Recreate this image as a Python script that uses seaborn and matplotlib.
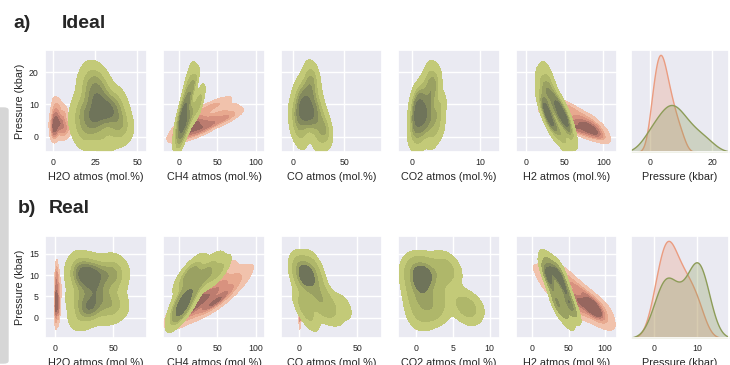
import numpy as np
import pandas as pd
import matplotlib
matplotlib.use("Agg")
import matplotlib.pyplot as plt
from matplotlib.colors import ListedColormap
from matplotlib.patches import FancyBboxPatch
import seaborn as sns

# gas columns (x of the 5 bivariate panels) + pressure (y, and the last panel)
gases = ["H2O", "CH4", "CO", "CO2", "H2"]
xlabels = ["H2O atmos (mol.%)", "CH4 atmos (mol.%)", "CO atmos (mol.%)",
           "CO2 atmos (mol.%)", "H2 atmos (mol.%)", "Pressure (kbar)"]

# ---- a) Ideal, orange group
ideal_or_p = [0.2, 0.8, 1.2, 1.5, 2.0, 2.3, 2.6, 2.9, 3.1, 3.4, 3.6, 3.9,
              4.2, 4.5, 4.8, 5.2, 5.6, 6.0, 6.5, 7.0, 7.6, 8.3, 9.2, 10.5]
ideal_or_h2o = [1, 5, 0.5, 7, 2, 9, 0.8, 6, 1.2, 3.5, 0.3, 4,
                8, 5, 0.6, 2.8, 1.4, 6, 0.9, 3, 7, 1.1, 4, 1.7]
ideal_or_ch4 = [8, 2, 20, 5, 28, 10, 15, 32, 6, 22, 40, 12,
                18, 35, 50, 25, 60, 14, 45, 70, 30, 62, 40, 55]
ideal_or_co = [1, 4, 2, 1.5, 0.8, 5, 1.2, 2.5, 0.4, 3.8, 3.5, 1,
               2.2, 0.6, 4.5, 2.8, 0.9, 1.3, 2, 0.7, 1.5, 2.4, 1.1, 0.5]
ideal_or_co2 = [0.1, 0.2, 0.05, 0.15, 0.3, 0.1, 0.2, 0.05, 0.25, 0.1, 0.15, 0.2,
                0.1, 0.3, 0.05, 0.2, 0.1, 0.15, 0.25, 0.1, 0.2, 0.05, 0.15, 0.1]
ideal_or_h2 = [89, 93, 77, 88, 68, 84, 82, 60, 91, 72, 58, 84,
               73, 58, 47, 70, 37, 80, 52, 30, 62, 38, 55, 41]

# ---- a) Ideal, green group
ideal_gr_p = [-1.5, 0, 1, 2, 3, 3.8, 4.5, 5.2, 5.8, 6.3, 6.8, 7.3,
              7.8, 8.4, 9, 9.7, 10.5, 11.3, 12.2, 13.2, 14.5, 16, 17.5, 19.5]
ideal_gr_h2o = [30, 18, 38, 22, 42, 26, 15, 34, 24, 40, 20, 30,
                28, 36, 17, 32, 25, 38, 22, 30, 26, 20, 28, 23]
ideal_gr_ch4 = [0, 3, -2, 6, 2, 10, 4, 1, 12, 7, 3, 15,
                9, 20, 5, 25, 12, 8, 28, 14, 10, 18, 20, 15]
ideal_gr_co = [25, 8, 32, 30, 3, 20, 12, 28, 6, 16, 22, 10,
               2, 18, 12, 8, 24, 14, 6, 18, 10, 15, 20, 17]
ideal_gr_co2 = [1, 3, 0.3, 2, 4, 0.8, 1.5, 2.8, 0.5, 1.8, 3.5, 1,
                2.2, 0.6, 1.4, 4.2, 1.1, 2.5, 0.7, 3.2, 1.6, 2.8, 3.5, 2.6]
ideal_gr_h2 = [50, 58, 45, 38, 55, 34, 52, 30, 48, 42, 28, 50,
               26, 44, 36, 24, 42, 22, 36, 28, 22, 30, 22, 28]

# ---- b) Real, orange group
real_or_p = [-0.5, 0.5, 1, 1.5, 2, 2.3, 2.6, 2.9, 3.2, 3.5, 3.8, 4.2,
             4.6, 5, 5.5, 6, 6.5, 7, 7.6, 8.2, 8.8, 9.5, 10.3, 11.2]
real_or_h2o = [1, 2.5, 0.5, 3, 1.5, 0.2, 2, 4, 1, 2.8, 0.6, 1.8,
               3.5, 0.8, 2.2, 1.2, 4.5, 0.4, 2.6, 1.5, 3.2, 0.9, 2, 1.3]
real_or_ch4 = [5, 0, 20, 8, 35, 12, 3, 42, 18, 25, 50, 10,
               38, 58, 28, 46, 66, 35, 55, 74, 45, 62, 80, 58]
real_or_co = [0.5, 1, 0.2, 1.5, 0.8, 2, 0.3, 1.2, 0.6, 1.8, 0.4, 1,
              2.2, 0.7, 1.4, 0.2, 1.6, 0.9, 0.3, 1.1, 0.5, 1.3, 0.8, 0.4]
real_or_co2 = [0.05, 0.1, 0.02, 0.15, 0.08, 0.2, 0.03, 0.12, 0.06, 0.1, 0.04, 0.09,
               0.05, 0.1, 0.02, 0.15, 0.08, 0.2, 0.03, 0.12, 0.06, 0.1, 0.04, 0.09]
real_or_h2 = [91, 94, 76, 86, 60, 85, 92, 52, 78, 69, 45, 85,
              56, 38, 73, 50, 30, 62, 40, 25, 52, 35, 18, 38]

# ---- b) Real, green group
real_gr_p = [-0.3, 1.2, 2, 2.6, 3, 3.4, 3.9, 4.5, 5.5, 7, 8, 8.7,
             9.2, 9.6, 9.9, 10.2, 10.5, 10.8, 11.2, 11.6, 12.1, 12.7, 6.2, 1.6]
real_gr_h2o = [20, 45, 30, 55, 25, 35, 48, 18, 40, 28, 52, 22,
               35, 45, 28, 18, 38, 55, 25, 32, 48, 20, 35, 30]
real_gr_ch4 = [-2, 2, 8, 0, 4, 12, 1, 6, 15, 20, 10, 30,
               5, 40, 18, 25, 50, 12, 35, 55, 22, 45, 8, 0]
real_gr_co = [10, 30, 5, 38, 20, 12, 2, 25, 15, 8, 3, 12,
              0, 6, 15, 2, 8, 4, 10, 1, 5, 12, 18, 22]
real_gr_co2 = [0.5, 7, 1.5, 7.5, 0.3, 2.5, 6, 0.8, 3, 0.2, 1.2, 0.6,
               2, 0.1, 3.5, 0.4, 1, 4.5, 0.2, 1.8, 0.7, 3.8, 0.3, 2.5]
real_gr_h2 = [50, 42, 55, 36, 48, 32, 50, 40, 30, 44, 26, 40,
              22, 36, 28, 20, 34, 40, 18, 30, 24, 20, 48, 58]

ideal_or = pd.DataFrame({"P": ideal_or_p, "H2O": ideal_or_h2o, "CH4": ideal_or_ch4,
                         "CO": ideal_or_co, "CO2": ideal_or_co2, "H2": ideal_or_h2})
ideal_gr = pd.DataFrame({"P": ideal_gr_p, "H2O": ideal_gr_h2o, "CH4": ideal_gr_ch4,
                         "CO": ideal_gr_co, "CO2": ideal_gr_co2, "H2": ideal_gr_h2})
real_or = pd.DataFrame({"P": real_or_p, "H2O": real_or_h2o, "CH4": real_or_ch4,
                        "CO": real_or_co, "CO2": real_or_co2, "H2": real_or_h2})
real_gr = pd.DataFrame({"P": real_gr_p, "H2O": real_gr_h2o, "CH4": real_gr_ch4,
                        "CO": real_gr_co, "CO2": real_gr_co2, "H2": real_gr_h2})

# axis settings
ideal_xlims = [(-4.6, 55.7), (-21, 112), (-12, 87), (-2, 12.9), (-13, 117.6), (-6, 25.4)]
ideal_xticks = [[0, 25, 50], [0, 50, 100], [0, 50], [0, 10], [0, 50, 100], [0, 20]]
ideal_ylim = (-4.7, 26.8)
ideal_yticks = [0, 10, 20]
real_xlims = [(-8.6, 79), (-21, 112), (-15.4, 71), (-2.4, 11.4), (-22.5, 116.6), (-5.3, 17.5)]
real_xticks = [[0, 50], [0, 50, 100], [0, 50], [0, 5, 10], [0, 50, 100], [0, 10]]
real_ylim = (-4.8, 19.2)
real_yticks = [0, 5, 10, 15]

# contour colours, outer level -> inner level (already mixed with the grey bg)
orange_levels = ListedColormap(["#f1c2ac", "#e8a98f", "#d8927f", "#bc7c6f", "#97675f"])
green_levels = ListedColormap(["#c3ca78", "#afb76a", "#9aa162", "#848a5d", "#6f745a"])

sns.set_theme(style="darkgrid")
plt.rcParams["font.family"] = ["Liberation Sans", "DejaVu Sans"]

fig = plt.figure(figsize=(7.3, 3.65), dpi=100)
W, H = 730, 365
lefts = [45, 163, 281, 398, 516, 631]
widths = [102, 102, 101, 102, 101, 98]


def draw_row(top, df_or, df_gr, xlims, xticks, ylim, yticks):
    for i in range(6):
        ax = fig.add_axes([lefts[i] / W, 1 - (top + 102) / H, widths[i] / W, 102 / H])
        if i < 5:
            col = gases[i]
            sns.kdeplot(x=df_or[col], y=df_or["P"], fill=True, cmap=orange_levels,
                        levels=6, thresh=0.05, bw_adjust=0.9, ax=ax)
            sns.kdeplot(x=df_gr[col], y=df_gr["P"], fill=True, cmap=green_levels,
                        levels=6, thresh=0.05, bw_adjust=0.9, ax=ax)
            ax.set_ylim(ylim)
            ax.set_yticks(yticks)
            if i == 0:
                ax.set_ylabel("Pressure (kbar)", fontsize=7.8, labelpad=3)
            else:
                ax.set_yticklabels([])
                ax.set_ylabel("")
        else:
            sns.kdeplot(x=df_or["P"], fill=True, color="#eb9c80", alpha=0.3,
                        linewidth=1, ax=ax)
            sns.kdeplot(x=df_gr["P"], fill=True, color="#8d9c58", alpha=0.3,
                        linewidth=1, ax=ax)
            ax.set_yticks([])
            ax.set_ylabel("")
            ax.grid(axis="y", visible=False)
        ax.set_xlim(xlims[i])
        ax.set_xticks(xticks[i])
        ax.set_xlabel(xlabels[i], fontsize=7.8, labelpad=3.5)
        ax.tick_params(labelsize=6.3, length=0, pad=4.5)


draw_row(50, ideal_or, ideal_gr, ideal_xlims, ideal_xticks, ideal_ylim, ideal_yticks)
draw_row(236, real_or, real_gr, real_xlims, real_xticks, real_ylim, real_yticks)

# row titles
fig.text(13 / W, 1 - 28 / H, "a)", fontsize=14, fontweight="bold", va="baseline")
fig.text(62 / W, 1 - 28 / H, "Ideal", fontsize=14, fontweight="bold", va="baseline")
fig.text(18 / W, 1 - 213 / H, "b)", fontsize=14, fontweight="bold", va="baseline")
fig.text(49 / W, 1 - 213 / H, "Real", fontsize=14, fontweight="bold", va="baseline")

# grey strip on the left edge of the original screenshot
fig.patches.append(FancyBboxPatch((-10 / W, 1 - 363 / H), 18 / W, 255 / H,
                                  boxstyle="round,pad=0,rounding_size=0.006",
                                  transform=fig.transFigure, color="#d6d6d6",
                                  zorder=0))

fig.savefig("out.png", dpi=100)
